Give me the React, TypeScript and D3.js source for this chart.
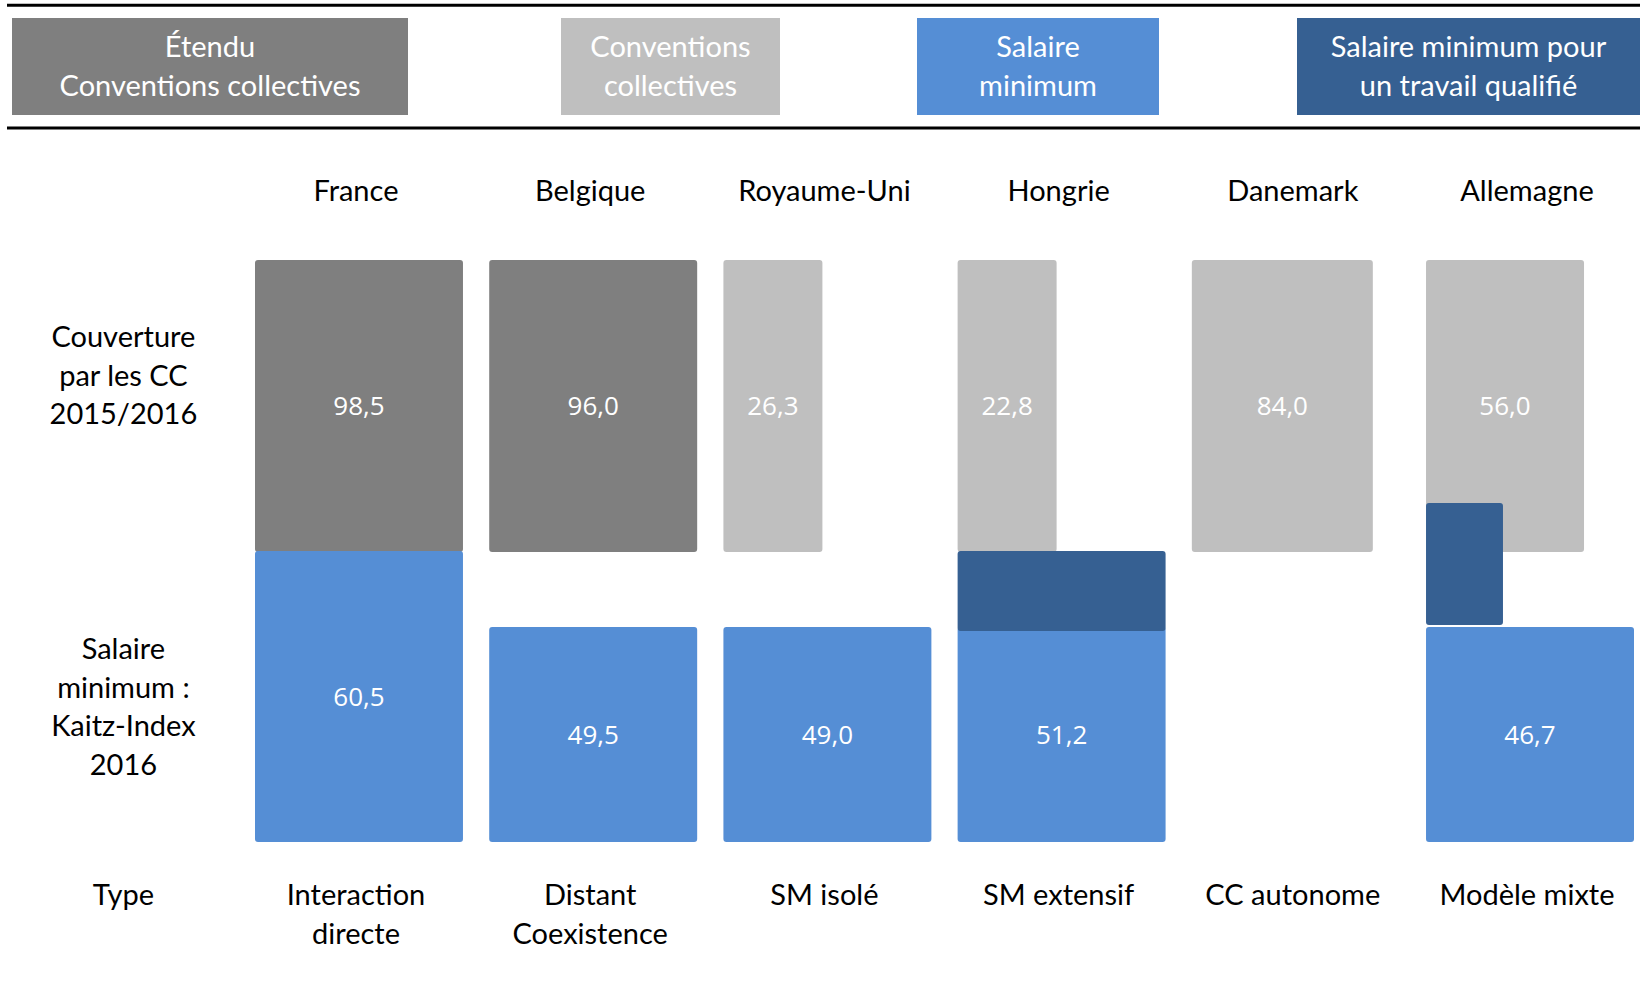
import * as d3 from 'd3';

// pays et types
const pays = ['France', 'Belgique', 'Royaume-Uni', 'Hongrie', 'Danemark', 'Allemagne'];
const types = [['Interaction', 'directe'], ['Distant', 'Coexistence'], ['SM isolé'], ['SM extensif'], ['CC autonome'], ['Modèle mixte']];

// couverture par les CC 2015/2016 (%)
const couverture = [98.5, 96.0, 26.3, 22.8, 84.0, 56.0];
// CC étendues ?
const ccEtendu = [true, true, false, false, false, false];
// Kaitz-Index 2016 (null = pas de salaire minimum)
const kaitz = [60.5, 49.5, 49.0, 51.2, null, 46.7];
// salaire minimum pour un travail qualifié
const smQualifie = [null, null, null, 'complet', null, 'partiel'];

const legendLabels = [['Étendu', 'Conventions collectives'], ['Conventions', 'collectives'], ['Salaire', 'minimum'], ['Salaire minimum pour', 'un travail qualifié']];
const rowLabels = [['Couverture', 'par les CC', '2015/2016'], ['Salaire', 'minimum :', 'Kaitz-Index', '2016'], ['Type']];

const COLORS = { etendu: '#7f7f7f', cc: '#bfbfbf', sm: '#558ed5', smq: '#366092' };
const legendColors = [COLORS.etendu, COLORS.cc, COLORS.sm, COLORS.smq];
const legendPos = [[12, 408], [561, 780], [917, 1159], [1297, 1640]];

const W = 1640, H = 984;
const FONT = 'Lato, "Open Sans", sans-serif';

const fr = d3.formatLocale({ decimal: ',', thousands: ' ', grouping: [3], currency: ['', ' €'] });
const fmt = fr.format('.1f');

export default function App() {
  const x = d3.scaleBand<string>().domain(pays).range([255, 1634]).paddingInner(0.112);
  const bw = x.bandwidth();

  const topY0 = 260, topY1 = 552;
  const botY0 = 551, botY1 = 842;

  // taille de la case selon la couverture
  const wCouv = d3.scaleThreshold<number, number>().domain([30, 70, 90]).range([99, 158, 181, bw]);
  // hauteur de la case selon le Kaitz-Index
  const hKaitz = d3.scaleThreshold<number, number>().domain([55]).range([215, botY1 - botY0]);

  const lineY = (i: number, n: number, cy: number, step = 38.6) => cy + (i - (n - 1) / 2) * step;
  const colX = (p: string) => (x(p) as number) + bw / 2 - 3;

  return (
    <svg width={W} height={H} style={{ position: 'absolute', left: 0, top: 0 }} fontFamily={FONT}>
      <rect width={W} height={H} fill="#fff" />
      <line x1={7} x2={W} y1={5.3} y2={5.3} stroke="#000" strokeWidth={3} />
      <line x1={7} x2={W} y1={128} y2={128} stroke="#000" strokeWidth={3} />

      {legendLabels.map((lab, i) => (
        <g key={i}>
          <rect x={legendPos[i][0]} y={18} width={legendPos[i][1] - legendPos[i][0]} height={97} fill={legendColors[i]} />
          {lab.map((t, j) => (
            <text key={j} x={(legendPos[i][0] + legendPos[i][1]) / 2} y={lineY(j, lab.length, 66.5)} dy="0.35em"
              textAnchor="middle" fill="#fff" fontSize={29}>{t}</text>
          ))}
        </g>
      ))}

      {pays.map(p => (
        <text key={p} x={colX(p)} y={191} dy="0.35em" textAnchor="middle" fontSize={29} fill="#000">{p}</text>
      ))}

      {rowLabels.map((lab, i) => {
        const cy = [375.5, 707, 895.3][i];
        return lab.map((t, j) => (
          <text key={i + '-' + j} x={123.4} y={i === 2 ? cy : lineY(j, lab.length, cy)} dy="0.35em"
            textAnchor="middle" fontSize={29} fill="#000">{t}</text>
        ));
      })}

      {pays.map((p, i) => {
        const w = wCouv(couverture[i]);
        return (
          <g key={p}>
            <rect x={x(p)} y={topY0} width={w} height={topY1 - topY0} rx={3}
              fill={ccEtendu[i] ? COLORS.etendu : COLORS.cc} />
            <text x={(x(p) as number) + w / 2} y={(topY0 + topY1) / 2} dy="0.35em" textAnchor="middle"
              fill="#fff" fontSize={26} fontFamily='"Open Sans", sans-serif'>{fmt(couverture[i])}</text>
          </g>
        );
      })}

      {pays.map((p, i) => {
        const k = kaitz[i];
        if (k == null) return null;
        const h = hKaitz(k);
        return (
          <g key={p}>
            <rect x={x(p)} y={botY1 - h} width={bw} height={h} rx={3} fill={COLORS.sm} />
            <text x={(x(p) as number) + bw / 2} y={botY1 - h / 2} dy="0.35em" textAnchor="middle"
              fill="#fff" fontSize={26} fontFamily='"Open Sans", sans-serif'>{fmt(k)}</text>
          </g>
        );
      })}

      {pays.map((p, i) => {
        const m = smQualifie[i];
        if (!m) return null;
        const k = kaitz[i] as number;
        const blueTop = botY1 - hKaitz(k);
        if (m === 'complet') {
          return <rect key={p} x={x(p)} y={topY1 - 1} width={bw} height={blueTop - topY1 + 5} rx={3} fill={COLORS.smq} />;
        }
        return <rect key={p} x={x(p)} y={topY1 - 49} width={bw * 0.37} height={blueTop - topY1 + 47} rx={3} fill={COLORS.smq} />;
      })}

      {pays.map((p, i) => types[i].map((t, j) => (
        <text key={p + j} x={colX(p)} y={895.3 + j * 38.7} dy="0.35em" textAnchor="middle" fontSize={29} fill="#000">{t}</text>
      )))}
    </svg>
  );
}
